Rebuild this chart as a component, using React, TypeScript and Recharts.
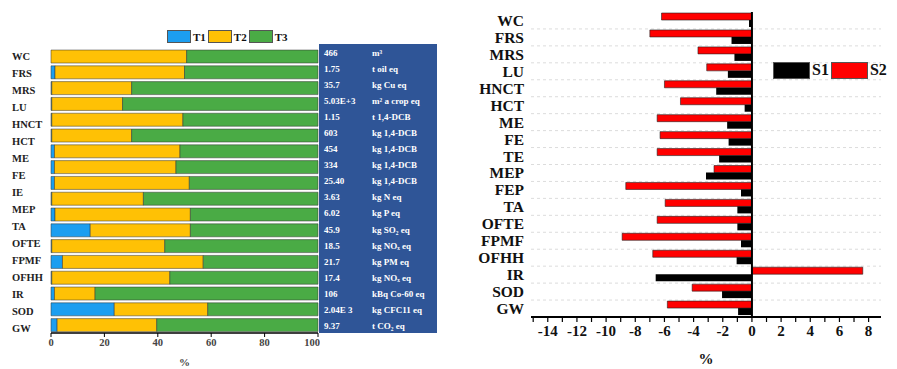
import {
  BarChart, Bar, XAxis, YAxis, Legend, CartesianGrid, ReferenceLine, Label,
} from 'recharts'

const CATEGORIES = ['WC', 'FRS', 'MRS', 'LU', 'HNCT', 'HCT', 'ME', 'FE', 'TE', 'MEP', 'FEP', 'TA', 'OFTE', 'FPMF', 'OFHH', 'IR', 'SOD', 'GW']
// the left panel prints 17 labels evenly over its 18 bars
const LEFT_LABELS = ['WC', 'FRS', 'MRS', 'LU', 'HNCT', 'HCT', 'ME', 'FE', 'IE', 'MEP', 'TA', 'OFTE', 'FPMF', 'OFHH', 'IR', 'SOD', 'GW']

const T1 = [0, 1.5, 0.3, 0.3, 0.3, 0.3, 1.3, 1.3, 1.3, 0.3, 1.5, 14.7, 0.3, 4.3, 0.3, 1.3, 23.7, 2.3]
const T2 = [50.8, 48.5, 29.9, 26.5, 49.1, 29.9, 47.0, 45.5, 50.5, 34.3, 50.7, 37.5, 42.3, 52.7, 44.2, 15.2, 35.0, 37.3]
const T3 = [49.2, 50, 69.8, 73.2, 50.6, 69.8, 51.7, 53.2, 48.2, 65.4, 47.8, 47.8, 57.4, 43, 55.5, 83.5, 41.3, 60.4]

const TABLE_VALUES = ['466', '1.75', '35.7', '5.03E+3', '1.15', '603', '454', '334', '25.40', '3.63', '6.02', '45.9', '18.5', '21.7', '17.4', '106', '2.04E 3', '9.37']
const TABLE_UNITS = ['m³', 't oil eq', 'kg Cu eq', 'm² a crop eq', 't 1,4-DCB', 'kg 1,4-DCB', 'kg 1,4-DCB', 'kg 1,4-DCB', 'kg 1,4-DCB', 'kg N eq', 'kg P eq', 'kg SO₂ eq', 'kg NOₓ eq', 'kg PM eq', 'kg NOₓ eq', 'kBq Co-60 eq', 'kg CFC11 eq', 't CO₂ eq']

const S1 = [-0.2, -1.4, -1.2, -1.65, -2.45, -0.5, -1.7, -1.6, -2.25, -3.15, -0.75, -1.0, -1.0, -0.75, -1.05, -6.6, -2.05, -0.95]
const S2 = [-6.2, -7.0, -3.7, -3.1, -6.0, -4.9, -6.5, -6.3, -6.5, -2.6, -8.65, -5.95, -6.5, -8.9, -6.8, 7.6, -4.1, -5.8]

const LEFT_TICKS = [0, 20, 40, 60, 80, 100]
const RIGHT_TICKS = [-15, -14, -13, -12, -11, -10, -9, -8, -7, -6, -5, -4, -3, -2, -1, 0, 1, 2, 3, 4, 5, 6, 7, 8]

const SERIF = '"Liberation Serif", "Times New Roman", serif'

const leftData = CATEGORIES.map((name, i) => ({ name, T1: T1[i], T2: T2[i], T3: T3[i] }))
const rightData = CATEGORIES.map((name, i) => ({ name, S1: S1[i], S2: S2[i] }))
// label axis runs over the bar index range 0..17
const labelTicks = LEFT_LABELS.map((_, k) => 0.44 + k * 1.016)

const COLORS = { T1: '#1c9ef0', T2: '#ffc105', T3: '#4aab45', S1: '#000000', S2: '#ff0000' }

function LeftLabelTick({ y, index }: any) {
  return (
    <text x={12} y={y} dy="0.35em" fontFamily={SERIF} fontWeight="bold" fontSize={10.5} fill="#222">
      {LEFT_LABELS[index]}
    </text>
  )
}

function SwatchLegend({ keys, box, font, gap }: { keys: string[]; box: [number, number]; font: number; gap: number }) {
  return (
    <div style={{ display: 'flex', alignItems: 'center', fontFamily: SERIF, fontWeight: 'bold', fontSize: font, color: '#111' }}>
      {keys.map((k) => (
        <div key={k} style={{ display: 'flex', alignItems: 'center', marginRight: gap }}>
          <span style={{ width: box[0], height: box[1], background: (COLORS as any)[k], border: '1px solid #555', boxSizing: 'border-box', marginRight: 2 }} />
          <span>{k}</span>
        </div>
      ))}
    </div>
  )
}

function LeftPanel() {
  return (
    <div style={{ position: 'absolute', left: 0, top: 0 }}>
      <BarChart width={320} height={369} data={leftData} layout="vertical"
        margin={{ top: 48.6, right: 2, bottom: 0, left: 0 }} barCategoryGap="9%">
        <XAxis type="number" domain={[0, 100]} ticks={LEFT_TICKS} height={36}
          tick={{ fontFamily: SERIF, fontWeight: 'bold', fontSize: 10.5, fill: '#444' }}
          axisLine={{ stroke: '#000', strokeWidth: 1.5 }} tickLine={{ stroke: '#000' }} tickSize={4}>
          <Label value="%" position="insideBottom" offset={3} style={{ fontFamily: SERIF, fontWeight: 'bold', fontSize: 11, fill: '#444' }} />
        </XAxis>
        <YAxis yAxisId="cat" type="category" dataKey="name" hide />
        <YAxis yAxisId="lbl" type="number" domain={[0, 17]} allowDataOverflow
          ticks={labelTicks} interval={0} width={51}
          tick={<LeftLabelTick />} tickLine={false} axisLine={{ stroke: '#000', strokeWidth: 1.5 }} />
        <Legend layout="horizontal" verticalAlign="middle" align="center"
          wrapperStyle={{ left: 167, top: 30, width: 140, height: 14 }}
          content={() => <SwatchLegend keys={['T1', 'T2', 'T3']} box={[24, 13]} font={11} gap={2} />} />
        <Bar yAxisId="cat" dataKey="T1" stackId="a" fill={COLORS.T1} stroke="#333" strokeWidth={0.5} isAnimationActive={false} />
        <Bar yAxisId="cat" dataKey="T2" stackId="a" fill={COLORS.T2} stroke="#333" strokeWidth={0.5} isAnimationActive={false} />
        <Bar yAxisId="cat" dataKey="T3" stackId="a" fill={COLORS.T3} stroke="#333" strokeWidth={0.5} isAnimationActive={false} />
      </BarChart>
      <div style={{
        position: 'absolute', left: 319, top: 44, width: 118, height: 289, background: '#2f5597',
        paddingTop: 1, boxSizing: 'border-box', fontFamily: SERIF, fontWeight: 'bold', fontSize: 9, color: '#fff',
      }}>
        {TABLE_VALUES.map((v, i) => (
          <div key={i} style={{ display: 'flex', height: 16.05, alignItems: 'center', whiteSpace: 'nowrap' }}>
            <span style={{ width: 53, paddingLeft: 5, boxSizing: 'border-box' }}>{v}</span>
            <span>{TABLE_UNITS[i]}</span>
          </div>
        ))}
      </div>
    </div>
  )
}

function RightPanel() {
  return (
    <div style={{ position: 'absolute', left: 450, top: 0 }}>
      <BarChart width={447} height={369} data={rightData} layout="vertical"
        margin={{ top: 12, right: 16, bottom: 0, left: 0 }} barCategoryGap="6%" barGap={0}>
        <CartesianGrid vertical={false} stroke="#dcdcdc" strokeDasharray="3 3"
          horizontalCoordinatesGenerator={({ offset }: any) =>
            CATEGORIES.slice(1).map((_, i) => offset.top + ((i + 1) * offset.height) / CATEGORIES.length)} />
        <XAxis type="number" domain={[-15.15, 8.85]} allowDataOverflow ticks={RIGHT_TICKS} interval={0} height={52}
          tickFormatter={(v: number) => (v % 2 === 0 ? String(v) : '')}
          tick={{ fontFamily: SERIF, fontWeight: 'bold', fontSize: 15, fill: '#111' }}
          axisLine={{ stroke: '#000', strokeWidth: 2 }} tickLine={{ stroke: '#000', strokeWidth: 1.2 }} tickSize={5} tickMargin={3}>
          <Label value="%" position="insideBottom" offset={5} style={{ fontFamily: SERIF, fontWeight: 'bold', fontSize: 15, fill: '#111' }} />
        </XAxis>
        <YAxis type="category" dataKey="name" width={81} interval={0}
          tick={{ fontFamily: SERIF, fontWeight: 'bold', fontSize: 15.5, fill: '#111' }}
          tickLine={false} axisLine={false} tickSize={0} tickMargin={7} />
        <ReferenceLine x={0} stroke="#000" strokeWidth={2} />
        <Legend layout="horizontal" verticalAlign="middle" align="center"
          wrapperStyle={{ left: 323, top: 61, width: 124, height: 18 }}
          content={() => <SwatchLegend keys={['S1', 'S2']} box={[37, 17]} font={16} gap={2} />} />
        <Bar dataKey="S2" fill={COLORS.S2} stroke="#222" strokeWidth={0.6} isAnimationActive={false} />
        <Bar dataKey="S1" fill={COLORS.S1} isAnimationActive={false} />
      </BarChart>
    </div>
  )
}

export default function App() {
  return (
    <div style={{ position: 'absolute', left: 0, top: 0, width: 897, height: 369, background: '#fff', overflow: 'hidden' }}>
      <LeftPanel />
      <RightPanel />
    </div>
  )
}
